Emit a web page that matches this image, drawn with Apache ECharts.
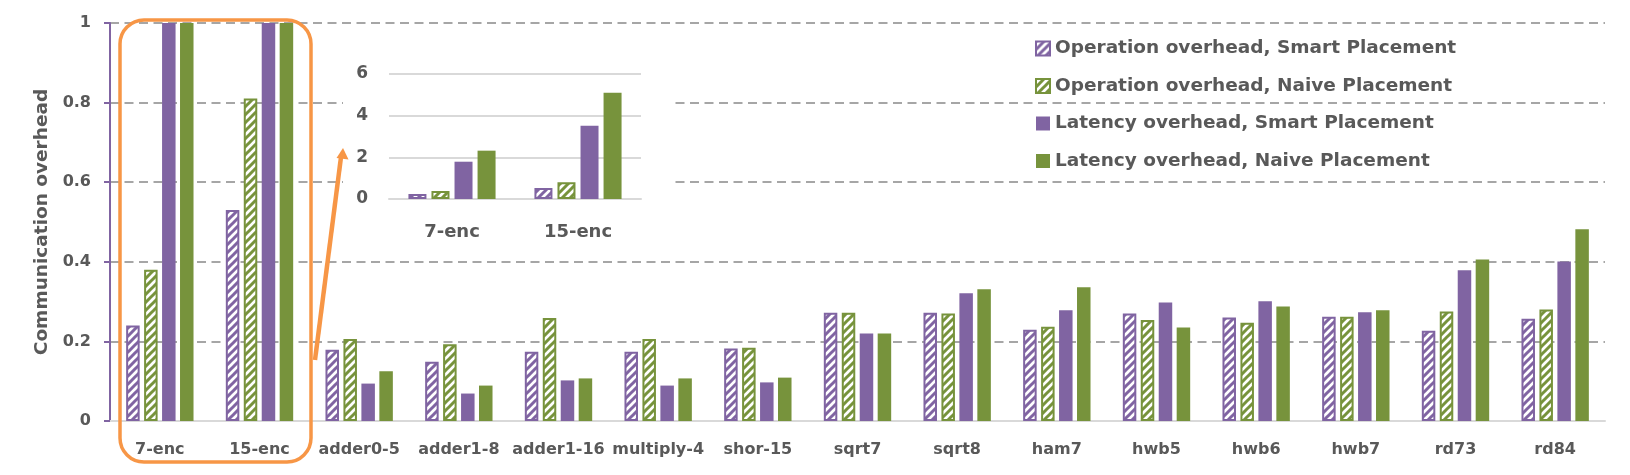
<!DOCTYPE html>
<html>
<head>
<meta charset="utf-8">
<script src="https://cdn.jsdelivr.net/npm/echarts@6/dist/echarts.min.js"></script>
<style>
html,body{margin:0;padding:0;background:#fff;}
#main{width:1630px;height:475px;}
</style>
</head>
<body>
<div id="main"></div>
<script>
var categories = ['7-enc','15-enc','adder0-5','adder1-8','adder1-16','multiply-4','shor-15','sqrt7','sqrt8','ham7','hwb5','hwb6','hwb7','rd73','rd84'];
var opSmart  = [0.24, 0.53, 0.179, 0.149, 0.174, 0.174, 0.182, 0.272, 0.272, 0.229, 0.270, 0.260, 0.262, 0.227, 0.257];
var opNaive  = [0.38, 0.81, 0.206, 0.193, 0.259, 0.206, 0.184, 0.272, 0.270, 0.237, 0.254, 0.247, 0.262, 0.275, 0.280];
var latSmart = [1.79, 3.52, 0.094, 0.069, 0.102, 0.089, 0.097, 0.220, 0.321, 0.278, 0.298, 0.301, 0.273, 0.379, 0.401];
var latNaive = [2.32, 5.10, 0.125, 0.089, 0.107, 0.107, 0.109, 0.220, 0.331, 0.336, 0.235, 0.288, 0.278, 0.406, 0.482];
var seriesNames = ['Operation overhead, Smart Placement','Operation overhead, Naive Placement','Latency overhead, Smart Placement','Latency overhead, Naive Placement'];
var yTicks = [0, 0.2, 0.4, 0.6, 0.8, 1];
var insetTicks = [0, 2, 4, 6];
// the zoomed box only shows the two encoder circuits
var insetCount = 2;

var PURPLE = '#8064A2', GREEN = '#77933C', TXT = '#595959';
var FONT = '"DejaVu Sans", Verdana, sans-serif';

// diagonal stripes like excel's "wide upward diagonal"
function hatch(color){
	var c = document.createElement('canvas');
	c.width = 8; c.height = 8;
	var ctx = c.getContext('2d');
	ctx.fillStyle = '#fff';
	ctx.fillRect(0,0,8,8);
	ctx.strokeStyle = color;
	ctx.lineWidth = 3;
	ctx.beginPath();
	ctx.moveTo(-2,10); ctx.lineTo(10,-2);
	ctx.moveTo(-2,2); ctx.lineTo(2,-2);
	ctx.moveTo(6,10); ctx.lineTo(10,6);
	ctx.stroke();
	return {image: c, repeat: 'repeat'};
}

var styles = [
	{color: hatch(PURPLE), borderColor: PURPLE, borderWidth: 2},
	{color: hatch(GREEN), borderColor: GREEN, borderWidth: 2},
	{color: PURPLE},
	{color: GREEN}
];
var values = [opSmart, opNaive, latSmart, latNaive];

var series = [];
for(var i = 0; i < 4; i++){
	series.push({
		name: seriesNames[i], type: 'bar', data: values[i],
		xAxisIndex: 0, yAxisIndex: 0,
		barWidth: 13.5, barGap: '33%', clip: true,
		itemStyle: styles[i], z: 2
	});
}
for(var i = 0; i < 4; i++){
	series.push({
		name: seriesNames[i], type: 'bar', data: values[i].slice(0, insetCount),
		xAxisIndex: 1, yAxisIndex: 1,
		barWidth: 18, barGap: '28%',
		itemStyle: styles[i], z: 6
	});
}

function txt(size){
	return {color: TXT, fontSize: size, fontWeight: 'bold', fontFamily: FONT};
}

var myChart = echarts.init(document.getElementById('main'));
var option = {
	animation: false,
	backgroundColor: '#fff',
	legend: {
		data: seriesNames,
		orient: 'vertical',
		left: 1030, top: 33,
		itemWidth: 14, itemHeight: 14, itemGap: 16.5,
		icon: 'rect',
		textStyle: Object.assign({lineHeight: 21}, txt(18.5))
	},
	grid: [
		{left: 110, right: 25, top: 23, bottom: 54},
		{left: 389, right: 989, top: 74, bottom: 276}
	],
	xAxis: [{
		type: 'category', data: categories, gridIndex: 0,
		axisLine: {lineStyle: {color: '#D9D9D9', width: 2}},
		axisTick: {show: false},
		axisLabel: Object.assign({interval: 0, margin: 21}, txt(16))
	},{
		type: 'category', data: categories.slice(0, insetCount), gridIndex: 1, z: 4,
		axisLine: {lineStyle: {color: '#D9D9D9', width: 2}},
		axisTick: {show: false},
		axisLabel: Object.assign({interval: 0, margin: 24}, txt(18))
	}],
	yAxis: [{
		type: 'value', gridIndex: 0,
		min: yTicks[0], max: yTicks[yTicks.length-1], interval: 0.2,
		name: 'Communication overhead', nameLocation: 'middle', nameGap: 58,
		nameTextStyle: txt(18.5),
		axisLine: {show: true, lineStyle: {color: PURPLE, width: 2}},
		axisTick: {show: true, length: 6, lineStyle: {color: PURPLE, width: 2}},
		axisLabel: Object.assign({margin: 19}, txt(16)),
		splitLine: {lineStyle: {color: '#A6A6A6', width: 2, type: [9, 5.5]}}
	},{
		type: 'value', gridIndex: 1, z: 4,
		min: insetTicks[0], max: insetTicks[insetTicks.length-1], interval: 2,
		axisLine: {show: false},
		axisTick: {show: false},
		axisLabel: Object.assign({margin: 21}, txt(17)),
		splitLine: {lineStyle: {color: '#D9D9D9', width: 2}}
	}],
	graphic: [
		// white card behind the inset
		{type: 'rect', z: 3, shape: {x: 343, y: 36, width: 328, height: 216}, style: {fill: '#fff'}},
		// orange highlight box round the encoders
		{type: 'rect', z: 20, shape: {x: 120, y: 20, width: 191, height: 442, r: 24}, style: {fill: 'none', stroke: '#F79646', lineWidth: 3.5}},
		{type: 'line', z: 20, shape: {x1: 315, y1: 360, x2: 341, y2: 157}, style: {stroke: '#F79646', lineWidth: 4.5}},
		{type: 'polygon', z: 20, shape: {points: [[343, 148], [336.5, 158], [348.5, 159.5]]}, style: {fill: '#F79646'}}
	],
	series: series
};
myChart.setOption(option);
</script>
</body>
</html>
